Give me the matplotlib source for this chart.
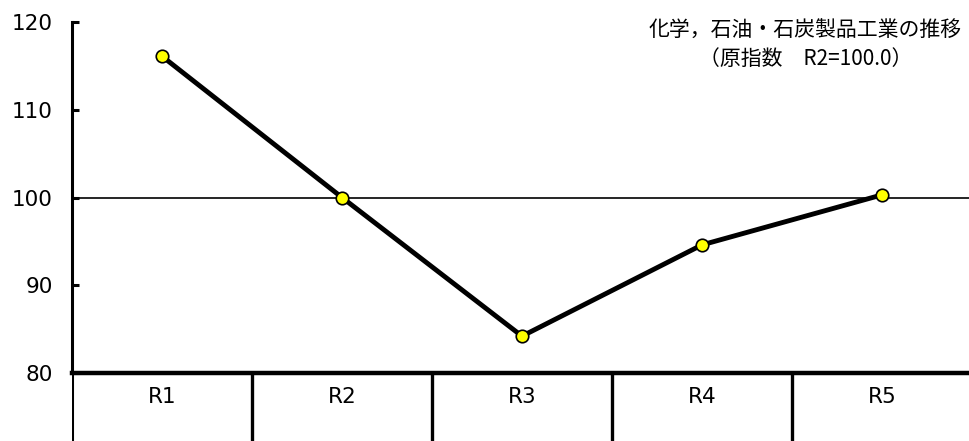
import matplotlib

matplotlib.use("Agg")
import matplotlib.pyplot as plt

categories = ["R1", "R2", "R3", "R4", "R5"]
index_values = [116.1, 100.0, 84.2, 94.6, 100.3]
y_ticks = [80, 90, 100, 110, 120]
baseline = 100.0
title_lines = "化学，石油・石炭製品工業の推移\n（原指数　R2=100.0）"

fig = plt.figure(figsize=(9.69, 4.41), dpi=100)
ax_w = 900 / 969
ax = fig.add_axes([72 / 969, 68 / 441, ax_w, 351 / 441])
tb = fig.add_axes([72 / 969, 0, ax_w, 68 / 441])

xs = list(range(len(categories)))
ax.axhline(baseline, color="black", lw=1.2, zorder=1)
ax.plot(xs, index_values, color="black", lw=3.5, zorder=2, solid_capstyle="round")
ax.plot(xs, index_values, "o", ms=9, mfc="#ffff00", mec="black", mew=1.2, zorder=3)

ax.set_xlim(-0.5, len(categories) - 0.5)
ax.set_ylim(80, 120)
ax.set_yticks(y_ticks)
ax.set_xticks([])
for s in ["top", "right"]:
    ax.spines[s].set_visible(False)
ax.spines["left"].set_linewidth(2.2)
ax.spines["bottom"].set_linewidth(3.2)
ax.tick_params(axis="y", direction="in", length=5, width=2.2, pad=14, labelsize=15.5)

ax.text(0.831, 0.955, title_lines, transform=fig.transFigure, ha="center", va="top",
        fontsize=15, linespacing=1.35, family=["Noto Sans CJK JP", "DejaVu Sans"])

# category table under the plot
tb.set_xlim(-0.5, len(categories) - 0.5)
tb.set_ylim(0, 1)
tb.axis("off")
for i, c in enumerate(categories):
    tb.text(i, 0.64, c, ha="center", va="center", fontsize=15.5)
    tb.axvline(i - 0.5, color="black", lw=2.2 if i == 0 else 2.4)

fig.savefig("out.png", dpi=100)
